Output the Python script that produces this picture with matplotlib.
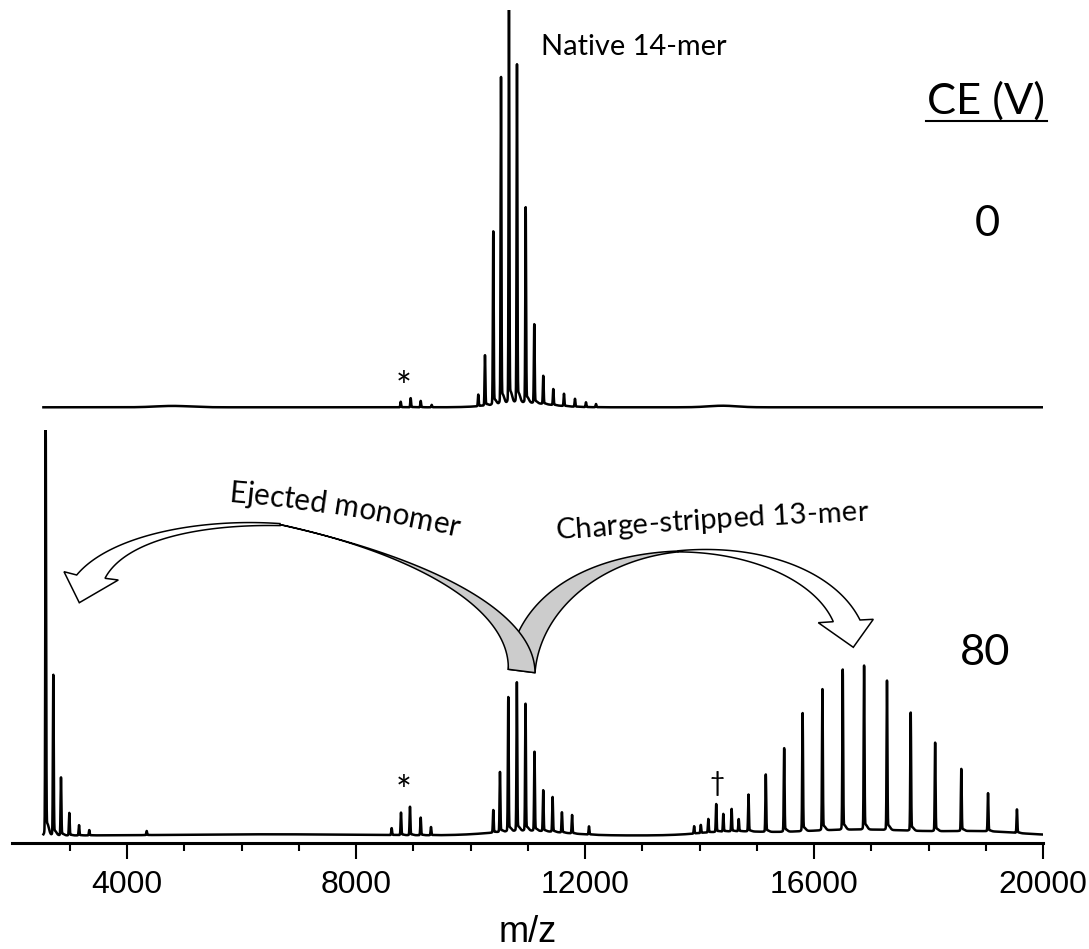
import numpy as np
import matplotlib
matplotlib.use("Agg")
import matplotlib.pyplot as plt
from matplotlib.patches import Polygon
from matplotlib.lines import Line2D
from matplotlib.textpath import TextToPath
from matplotlib.font_manager import FontProperties

W, H, DPI = 1089, 949, 100

# ---------------- spectrum at CE = 0 V (relative intensity, %) ----------------
top_mz = [8781, 8955, 9130, 9322,
          10136, 10253, 10398, 10533, 10672, 10812, 10964, 11114,
          11271, 11446, 11633, 11825, 12017, 12192]
top_int = [1.4, 2.3, 1.6, 0.6,
           2.9, 12.7, 43.3, 82.4, 100.0, 84.5, 48.8, 19.7,
           7.1, 4.0, 3.1, 2.0, 1.2, 0.8]
# broad, low baseline features
top_hump_mz = [4800, 10900, 14400]
top_hump_int = [0.35, 1.2, 0.4]
top_hump_w = [300, 450, 250]

# ---------------- spectrum at CE = 80 V (relative intensity, %) ----------------
bot_mz = [2580, 2713, 2847, 2992, 3162, 3341, 4344,
          8623, 8786, 8943, 9130, 9310,
          10398, 10515, 10660, 10810, 10961, 11118, 11270, 11434, 11597, 11774, 12070,
          13906, 14023, 14154, 14292, 14416, 14561, 14685, 14856,
          15158, 15479, 15801, 16147, 16502, 16875, 17275, 17689,
          18116, 18573, 19040, 19545]
bot_int = [100.0, 39.6, 14.3, 5.5, 2.5, 1.3, 1.0,
           1.7, 5.5, 7.0, 4.3, 2.0,
           5.5, 14.8, 32.8, 36.3, 31.3, 19.3, 10.0, 8.5, 5.0, 4.5, 2.0,
           1.8, 2.0, 3.3, 6.8, 4.3, 5.5, 3.0, 9.0,
           14.0, 20.6, 29.1, 34.8, 39.1, 40.4, 36.8, 29.1,
           21.6, 15.3, 9.3, 5.8]
bot_hump_mz = [6500, 11000, 14500, 16800, 19000]
bot_hump_int = [0.3, 1.2, 0.8, 1.5, 0.8]
bot_hump_w = [1500, 600, 500, 1200, 600]

xticks_major = [4000, 8000, 12000, 16000, 20000]
ce_labels = ["0", "80"]

mz = np.arange(2540.0, 20000.0, 2.0)


def spectrum(centers, heights, hc, hh, hw):
    y = np.zeros_like(mz)
    for c, h in zip(centers, heights):
        y += h * np.exp(-0.5 * ((mz - c) / 7.0) ** 2)
        y += 0.03 * h * np.exp(-0.5 * ((mz - c - 25) / 30.0) ** 2)
    for c, h, w in zip(hc, hh, hw):
        y += h * np.exp(-0.5 * ((mz - c) / w) ** 2)
    return y


y_top = spectrum(top_mz, top_int, top_hump_mz, top_hump_int, top_hump_w)
y_bot = spectrum(bot_mz, bot_int, bot_hump_mz, bot_hump_int, bot_hump_w)

fig = plt.figure(figsize=(W / DPI, H / DPI), dpi=DPI)


def fx(x):
    return x / W


def fy(y):
    return 1 - y / H


left, right = 12.5, 1043.0
# lower spectrum with the m/z axis
ax2 = fig.add_axes([fx(left), fy(843), (right - left) / W, (843 - 430) / H])
ax2.plot(mz, y_bot, color="black", lw=1.8)
ax2.set_xlim(2000, 20000)
ax2.set_ylim(-1.87, 101.1)
for s in ("top", "left", "right"):
    ax2.spines[s].set_visible(False)
ax2.spines["bottom"].set_linewidth(2.2)
ax2.set_yticks([])
ax2.set_xticks(xticks_major)
ax2.set_xticks(np.arange(3000, 20000, 1000), minor=True)
ax2.tick_params(axis="x", which="major", direction="out", length=11.5, width=1.5, pad=8)
ax2.tick_params(axis="x", which="minor", direction="out", length=5.8, width=1.5)
for lab in ax2.get_xticklabels():
    lab.set_fontfamily("Liberation Sans")
    lab.set_fontsize(23)
ax2.set_xlabel("m/z", fontsize=26, family="Liberation Sans", labelpad=11)
ax2.patch.set_alpha(0)

# upper spectrum
ax1 = fig.add_axes([fx(left), fy(410), (right - left) / W, (410 - 10) / H])
ax1.plot(mz, y_top, color="black", lw=1.8)
ax1.set_xlim(2000, 20000)
ax1.set_ylim(-0.69, 101.3)
ax1.axis("off")

# ---------------- text helpers ----------------
ttp = TextToPath()
FAM = "Lato"


def str_width(s, size, family=FAM):
    prop = FontProperties(family=family, size=size)
    w = ttp.get_text_width_height_descent(s + "l", prop, ismath=False)[0]
    w0 = ttp.get_text_width_height_descent("l", prop, ismath=False)[0]
    return (w - w0) * DPI / 72


def fit_size(s, target, family=FAM):
    return 10 * target / str_width(s, 10, family)


def arc_text(s, x0, y0, ang0, ang1, target):
    size = fit_size(s, target)
    prop = FontProperties(family=FAM, size=size)
    pos = [str_width(s[:i], size) if i else 0.0 for i in range(len(s) + 1)]
    k = (ang1 - ang0) / pos[-1]
    x, y, a = x0, y0, ang0
    for i, ch in enumerate(s):
        w = pos[i + 1] - pos[i]
        amid = a + k * w / 2
        fig.text(fx(x), fy(y), ch, rotation=-amid, rotation_mode="anchor",
                 ha="left", va="baseline", fontproperties=prop)
        r = np.radians(amid)
        x += w * np.cos(r)
        y += w * np.sin(r)
        a += k * w


# ---------------- curved block arrows ----------------
def bez(p0, p1, p2, p3, n=60):
    t = np.linspace(0, 1, n)[:, None]
    p0, p1, p2, p3 = (np.asarray(p, float) for p in (p0, p1, p2, p3))
    return ((1 - t) ** 3) * p0 + 3 * ((1 - t) ** 2) * t * p1 + 3 * (1 - t) * t ** 2 * p2 + t ** 3 * p3


def to_fig(pts):
    pts = np.asarray(pts, float)
    return np.column_stack([pts[:, 0] / W, 1 - pts[:, 1] / H])


def add_poly(pts, face, z):
    fig.patches.append(Polygon(to_fig(pts), closed=True, facecolor=face, edgecolor="black",
                               lw=1.1, joinstyle="miter", transform=fig.transFigure, zorder=z))


def block_arrow(gray_a, gray_b, outer, inner, head, z):
    ga, gb = bez(*gray_a), bez(*gray_b)
    add_poly(np.vstack([ga, gb[::-1]]), "#cccccc", z)
    o, i = bez(*outer), bez(*inner)
    add_poly(np.vstack([o, np.asarray(head), i[::-1]]), "white", z)


# arrow towards the 13-mer (drawn first, sits behind)
block_arrow(
    [(508.3, 669.3), (515, 600), (580, 555), (678, 551.0)],
    [(535, 672.7), (540, 610), (600, 560), (678, 551.9)],
    [(678, 550.8), (760, 543), (835, 570), (860, 620)],
    [(678, 551.9), (750, 552), (815, 580), (833.3, 621.7)],
    [(873.3, 619.3), (853.3, 647.3), (818.3, 622.7)],
    5)
# arrow towards the monomer
block_arrow(
    [(508.3, 669.3), (510, 610), (420, 555), (280, 524.5)],
    [(535, 672.7), (535, 615), (440, 560), (280, 524.7)],
    [(280, 523.6), (200, 518), (110, 535), (76.7, 575)],
    [(280, 525.6), (200, 524), (125, 540), (105, 578.3)],
    [(64, 571.7), (79.3, 602.7), (118.3, 580)],
    6)

# ---------------- annotations ----------------
arc_text("Ejected monomer", 228.3, 501.7, 5.0, 12.5, 232)
arc_text("Charge-stripped 13-mer", 556.7, 539.3, -4.5, -2.5, 312)

fig.text(fx(541), fy(55), "Native 14-mer", family=FAM, va="baseline", ha="left",
         fontsize=fit_size("Native 14-mer", 186))
ce_size = fit_size("CE (V)", 118)
fig.text(fx(926.7), fy(113.3), "CE (V)", family=FAM, va="baseline", ha="left", fontsize=ce_size)
fig.add_artist(Line2D([fx(925.7), fx(1047.3)], [fy(121), fy(121)], color="black", lw=1.5,
                      transform=fig.transFigure))
fig.text(fx(987), fy(236.5), ce_labels[0], family=FAM, va="baseline", ha="center", fontsize=ce_size)
fig.text(fx(985.5), fy(665), ce_labels[1], family=FAM, va="baseline", ha="center", fontsize=ce_size)

fig.text(fx(404), fy(400), "*", family=FAM, va="baseline", ha="center", fontsize=27)
fig.text(fx(404), fy(804), "*", family=FAM, va="baseline", ha="center", fontsize=27)
fig.text(fx(717), fy(791), "\u2020", family=[FAM, "DejaVu Sans"], va="baseline", ha="center", fontsize=19)

fig.savefig("out.png", dpi=DPI)
